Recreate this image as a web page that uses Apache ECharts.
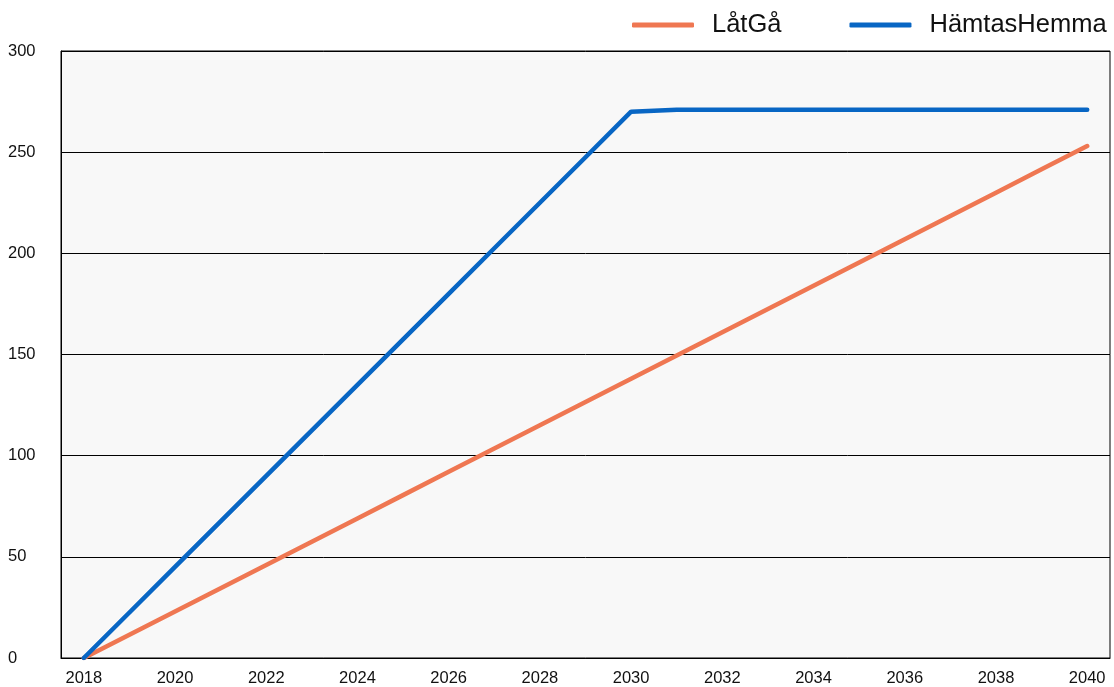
<!DOCTYPE html>
<html>
<head>
<meta charset="utf-8">
<script src="https://cdn.jsdelivr.net/npm/echarts@6/dist/echarts.min.js"></script>
<style>html,body{margin:0;padding:0;background:#fff;}#c{width:1114px;height:687px;}</style>
</head>
<body>
<div id="c"></div>
<script>
const years = ['2018','2019','2020','2021','2022','2023','2024','2025','2026','2027','2028','2029','2030','2031','2032','2033','2034','2035','2036','2037','2038','2039','2040'];
const latGa = [0,11.5,23,34.5,46,57.5,69,80.5,92,103.5,115,126.5,138,149.5,161,172.5,184,195.5,207,218.5,230,241.5,253];
const hamtasHemma = [0,22.5,45,67.5,90,112.5,135,157.5,180,202.5,225,247.5,270,271,271,271,271,271,271,271,271,271,271];
const seriesNames = ['LåtGå','HämtasHemma'];
const yTicks = [0,50,100,150,200,250,300];

const chart = echarts.init(document.getElementById('c'), null, {renderer:'canvas'});
const font = '"Liberation Sans", Arial, sans-serif';
chart.setOption({
  animation:false,
  textStyle:{fontFamily:font},
  legend:{
    top:7, left:627,
    itemWidth:62, itemHeight:5, itemGap:68,
    icon:'roundRect',
    textStyle:{fontSize:25.5, color:'#111', fontFamily:font, padding:[0,0,0,13]},
    data:seriesNames
  },
  grid:{left:61, right:4, top:51, bottom:28, show:true, backgroundColor:'#f8f8f8', borderColor:'#000', borderWidth:1, containLabel:false},
  xAxis:{
    type:'category', data:years, boundaryGap:true,
    axisLine:{lineStyle:{color:'#000', width:1}},
    axisTick:{show:false},
    axisLabel:{interval:1, fontSize:16.5, color:'#111', margin:12, fontFamily:font},
    splitLine:{show:false}
  },
  yAxis:{
    type:'value', min:yTicks[0], max:yTicks[yTicks.length-1], interval:50,
    axisLine:{show:true, lineStyle:{color:'#000'}},
    axisTick:{show:false},
    axisLabel:{fontSize:16.5, color:'#111', align:'left', margin:53, fontFamily:font},
    splitLine:{lineStyle:{color:'#000', width:1}}
  },
  series:[
    {name:seriesNames[0], type:'line', data:latGa, symbol:'none', lineStyle:{width:4.5, color:'#ef7752', cap:'round'}, itemStyle:{color:'#ef7752'}},
    {name:seriesNames[1], type:'line', data:hamtasHemma, symbol:'none', lineStyle:{width:4.5, color:'#0866c4', cap:'round'}, itemStyle:{color:'#0866c4'}}
  ]
});
</script>
</body>
</html>
